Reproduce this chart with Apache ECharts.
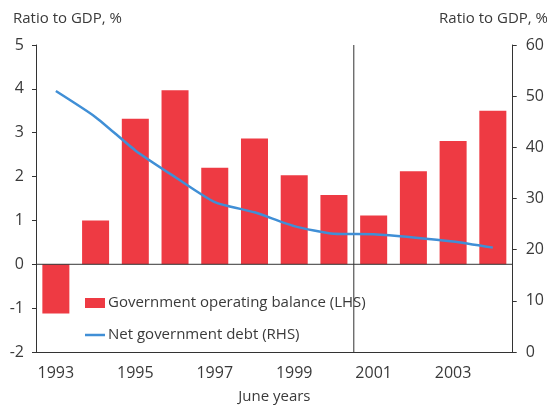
<!DOCTYPE html>
<html><head><meta charset="utf-8">
<script src="https://cdn.jsdelivr.net/npm/echarts@6/dist/echarts.min.js"></script>
<style>html,body{margin:0;padding:0;background:#fff}#c{width:547px;height:409px}</style>
</head><body><div id="c"></div>
<script>
const years = ['1993','1994','1995','1996','1997','1998','1999','2000','2001','2002','2003','2004'];
const operatingBalance = [-1.12, 1.0, 3.32, 3.97, 2.2, 2.87, 2.03, 1.58, 1.11, 2.12, 2.81, 3.5];
const netDebt = [51.0, 45.9, 39.4, 34.2, 29.3, 27.3, 24.6, 23.1, 23.0, 22.4, 21.6, 20.4];
const leftTicks = {min: -2, max: 5, interval: 1};
const rightTicks = {min: 0, max: 60, interval: 10};
const dividerAt = [[8, -2], [8, 5]];
const zeroLine = [[0, 0], [12, 0]];

const FONT = 'Open Sans';
const TXT = '#3a3a3a';
const chart = echarts.init(document.getElementById('c'), null, {renderer: 'canvas'});
chart.setOption({
  animation: false,
  textStyle: {fontFamily: FONT},
  grid: {left: 36, right: 27, top: 45, bottom: 53},
  graphic: [
    {type: 'text', left: 13, top: 11, style: {text: 'Ratio to GDP, %', font: '15px "Open Sans"', fill: TXT}},
    {type: 'text', right: -1, top: 11, style: {text: 'Ratio to GDP, %', font: '15px "Open Sans"', fill: TXT}}
  ],
  legend: {
    orient: 'vertical', left: 80, top: 289, itemWidth: 20, itemHeight: 10, itemGap: 14,
    textStyle: {fontFamily: FONT, fontSize: 15, color: TXT, lineHeight: 18, padding: [0,0,0,-2]},
    data: [
      {name: 'Government operating balance (LHS)', icon: 'rect'},
      {name: 'Net government debt (RHS)', icon: 'path://M0,0 L40,0 L40,5 L0,5 Z'}
    ]
  },
  xAxis: [{
    type: 'category', data: years, boundaryGap: true,
    axisLine: {onZero: false, lineStyle: {color: '#333', width: 1}},
    axisTick: {interval: 0, length: 5, lineStyle: {color: '#333'}},
    axisLabel: {interval: 1, margin: 13, fontSize: 16, color: TXT, fontFamily: FONT},
    name: 'June years', nameLocation: 'middle', nameGap: 37,
    nameTextStyle: {fontSize: 15, color: TXT, fontFamily: FONT},
    splitLine: {show: false}
  }, {
    type: 'value', min: 0, max: 12, show: false
  }],
  yAxis: [{
    type: 'value', min: leftTicks.min, max: leftTicks.max, interval: leftTicks.interval,
    axisLine: {show: true, lineStyle: {color: '#333'}},
    axisTick: {show: true, length: 4, lineStyle: {color: '#333'}},
    axisLabel: {margin: 12, fontSize: 16, color: TXT, fontFamily: FONT},
    splitLine: {show: false}
  }, {
    type: 'value', min: rightTicks.min, max: rightTicks.max, interval: rightTicks.interval,
    position: 'right',
    axisLine: {show: true, lineStyle: {color: '#333'}},
    axisTick: {show: true, length: 4, lineStyle: {color: '#333'}},
    axisLabel: {margin: 13, fontSize: 16, color: TXT, fontFamily: FONT},
    splitLine: {show: false}
  }],
  series: [{
    name: 'Government operating balance (LHS)', type: 'bar', data: operatingBalance,
    barWidth: '68%', itemStyle: {color: '#ee3a43'}, yAxisIndex: 0, z: 2
  }, {
    name: 'Net government debt (RHS)', type: 'line', data: netDebt, yAxisIndex: 1,
    smooth: 0.2, symbol: 'none', lineStyle: {color: '#408fd6', width: 2.5}, itemStyle: {color: '#408fd6'}, z: 5
  }, {
    name: 'divider', type: 'line', xAxisIndex: 1, yAxisIndex: 0, data: dividerAt,
    symbol: 'none', silent: true, lineStyle: {color: '#333', width: 1}, z: 1
  }, {
    name: 'zero', type: 'line', xAxisIndex: 1, yAxisIndex: 0, data: zeroLine,
    symbol: 'none', silent: true, lineStyle: {color: '#333', width: 1}, z: 3
  }]
});
</script></body></html>
